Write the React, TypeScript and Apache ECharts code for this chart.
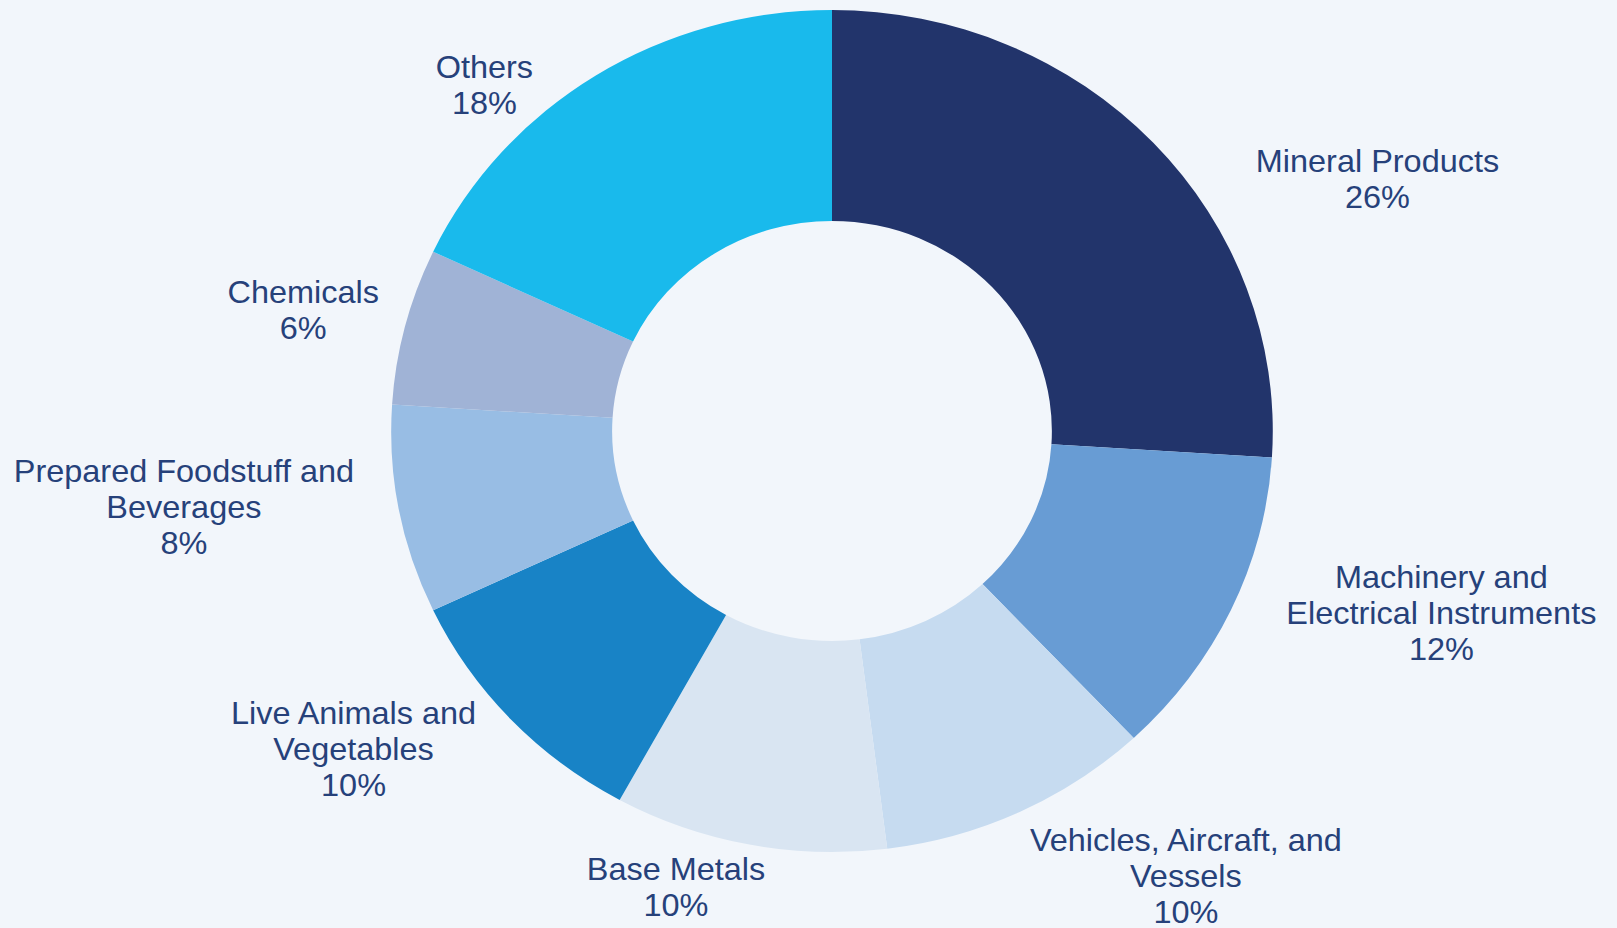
import React, { useEffect, useRef } from "react";
import * as echarts from "echarts";

const categories = [
  "Mineral Products",
  "Machinery and\nElectrical Instruments",
  "Vehicles, Aircraft, and\nVessels",
  "Base Metals",
  "Live Animals and\nVegetables",
  "Prepared Foodstuff and\nBeverages",
  "Chemicals",
  "Others",
];
const shares = [26, 12, 10, 10, 10, 8, 6, 18];
const sliceColors = [
  "#22346B",
  "#689CD4",
  "#C6DBF0",
  "#D9E5F2",
  "#1883C6",
  "#98BDE4",
  "#A0B3D6",
  "#19BAEC",
];
// label anchor offsets (px, before horizontal stretch) from pie centre — layout only
const labelOffsets: [number, number][] = [
  [521, -252],
  [582, 182],
  [338, 445],
  [-149, 456],
  [-457, 318],
  [-619, 76],
  [-505, -121],
  [-332, -346],
];

const CX = 832;
const CY = 431;
const STRETCH = 1.047;

export default function App() {
  const ref = useRef<HTMLDivElement>(null);
  useEffect(() => {
    if (!ref.current) return;
    const chart = echarts.init(ref.current, undefined, { renderer: "svg" });
    chart.setOption({
      animation: false,
      backgroundColor: "#F2F6FB",
      series: [
        {
          type: "pie",
          center: [CX, CY],
          radius: [210, 421],
          startAngle: 90,
          clockwise: true,
          avoidLabelOverlap: false,
          silent: true,
          emphasis: { disabled: true },
          label: {
            show: true,
            position: "outside",
            formatter: (p: any) => `${p.name}\n${Math.round(p.percent)}%`,
            color: "#26417A",
            fontFamily: "'Liberation Sans', Arial, sans-serif",
            fontSize: 31,
            lineHeight: 36,
            align: "center",
          },
          labelLine: { show: false },
          labelLayout: (params: any) => {
            const o = labelOffsets[params.dataIndex];
            return {
              x: CX + o[0],
              y: CY + o[1],
              align: "center",
              verticalAlign: "middle",
            };
          },
          data: categories.map((name, i) => ({
            name,
            value: shares[i],
            itemStyle: { color: sliceColors[i] },
          })),
        },
      ],
    });
    return () => chart.dispose();
  }, []);
  return (
    <div
      style={{
        position: "absolute",
        left: 0,
        top: 0,
        width: 1617,
        height: 928,
        overflow: "hidden",
        background: "#F2F6FB",
      }}
    >
      <div
        ref={ref}
        style={{
          width: 1617,
          height: 928,
          transform: `scaleX(${STRETCH})`,
          transformOrigin: `${CX}px 0px`,
        }}
      />
    </div>
  );
}
